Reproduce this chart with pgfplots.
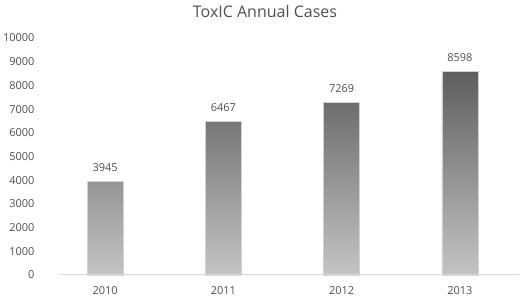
\documentclass[border=0pt]{standalone}
\usepackage{pgfplots}
\pgfplotsset{compat=1.18}
\usepackage{fontspec}
\setmainfont{Open Sans}
\definecolor{txt}{HTML}{505050}
\definecolor{barTop}{HTML}{5E5E5E}
\definecolor{barBot}{HTML}{C4C4C4}
\begin{document}
\begin{tikzpicture}[x=1pt,y=1pt]
\path[use as bounding box] (0,0) rectangle (520,297);
\node[text=txt, font=\fontsize{16}{18}\selectfont] at (265,285) {ToxIC Annual Cases};
\begin{axis}[
  at={(59pt,22pt)}, anchor=south west,
  scale only axis, width=460pt, height=237pt,
  xmin=-0.39, xmax=3.5,
  ymin=0, ymax=10000,
  ytick={0,1000,...,10000},
  scaled y ticks=false,
  xtick={0,1,2,3},
  xticklabels={2010,2011,2012,2013},
  axis line style={draw=none},
  axis x line*=bottom,
  axis y line*=left,
  major tick length=0pt,
  tick style={draw=none},
  /pgf/number format/assume math mode=true,
  /pgf/number format/1000 sep={},
  ticklabel style={text=txt, font=\fontsize{11}{13}\selectfont},
  yticklabel style={xshift=-21pt},
  xticklabel style={yshift=-8pt},
  ybar, bar width=36pt,
  nodes near coords,
  every node near coord/.append style={text=txt, font=\fontsize{11}{13}\selectfont, yshift=6pt},
  clip=false,
]
\addplot[draw=gray!35, line width=0.6pt, shade, top color=barTop, bottom color=barBot] coordinates {(0,3945) (1,6467) (2,7269) (3,8598)};
\draw[gray!30, line width=1pt] (axis cs:-0.39,0) -- (axis cs:3.5,0);
\end{axis}
\end{tikzpicture}
\end{document}
